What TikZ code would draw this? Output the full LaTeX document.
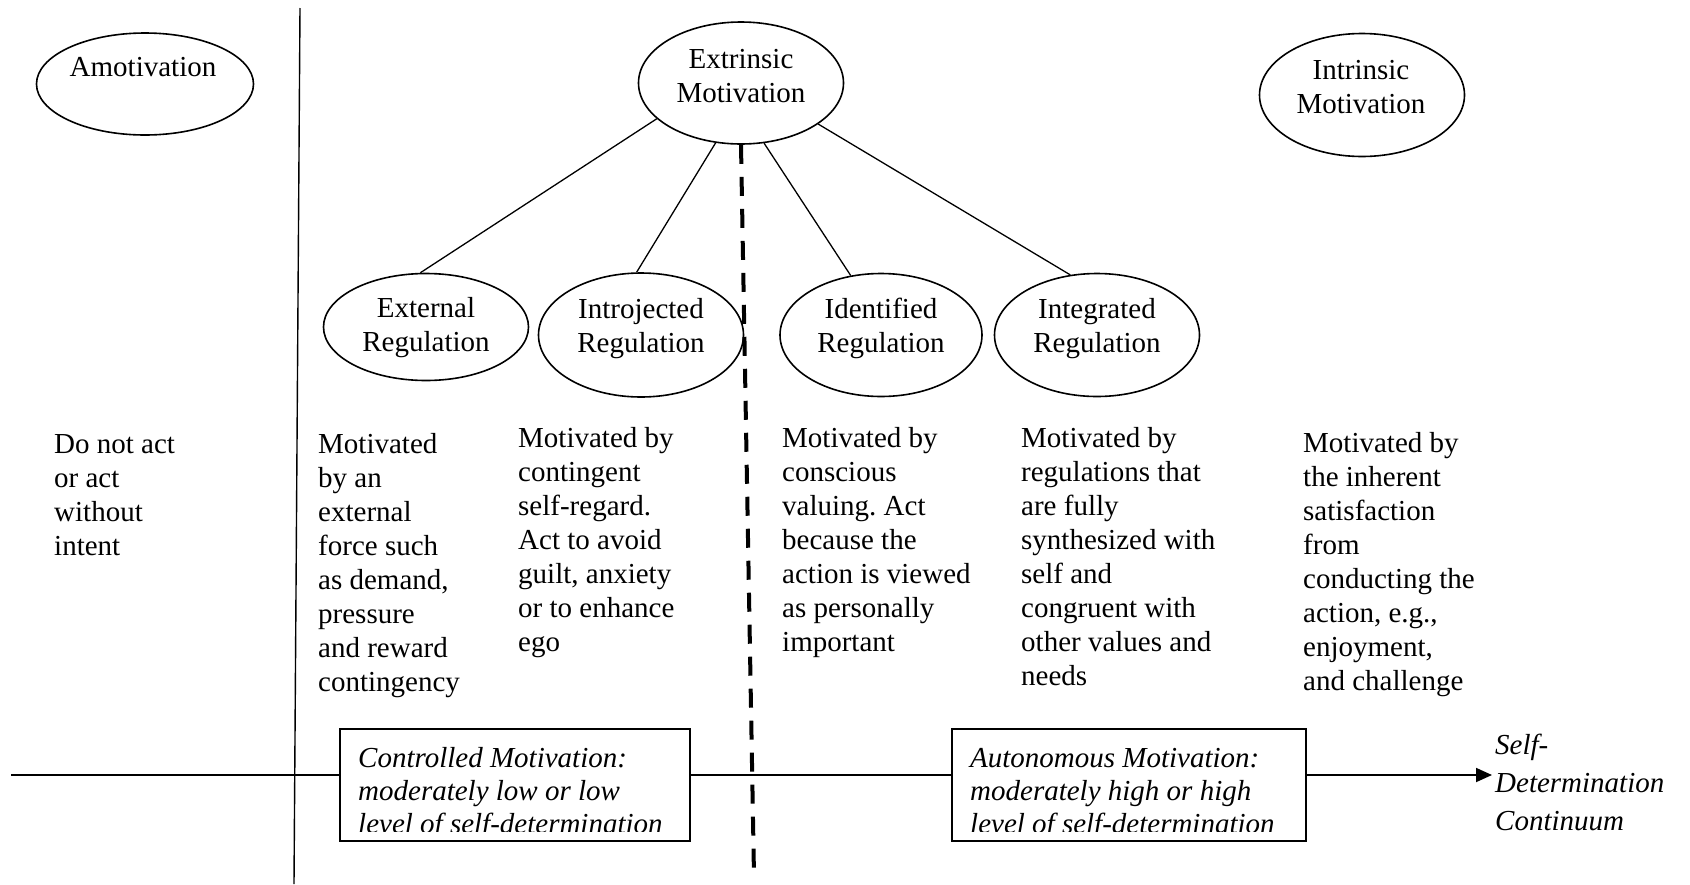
\documentclass[tikz,border=0pt]{standalone}
\usepackage{fontspec}
\setmainfont{Liberation Serif}
\usetikzlibrary{shapes.geometric,arrows.meta}
\frenchspacing

\begin{document}
\begin{tikzpicture}[x=1pt,y=-1pt,
  txt/.style={font=\fontsize{29}{34}\selectfont, inner sep=0pt, align=left, anchor=base west},
  oval/.style={ellipse, draw, line width=1.6pt, inner sep=0pt},
  ovaltxt/.style={font=\fontsize{29}{34}\selectfont, inner sep=0pt, align=center, anchor=base},
  boxtxt/.style={font=\fontsize{29}{33}\selectfont\itshape, inner sep=0pt, align=left, anchor=base west},
  levelbox/.style={draw, line width=1.8pt, fill=white, inner sep=0pt},
  link/.style={line width=1.3pt},
  axis/.style={line width=1.8pt},
  divider/.style={line width=4pt, dash pattern=on 19pt off 13pt}
]
\useasboundingbox (0,0) rectangle (1690,884);

% ovals
\node[oval, minimum width=217, minimum height=102] (amo) at (145,84) {};
\node[oval, minimum width=205, minimum height=122] (ext) at (741,83) {};
\node[oval, minimum width=205, minimum height=123] (intr) at (1362,95) {};
\node[oval, minimum width=205, minimum height=107] (extreg) at (426,327) {};
\node[oval, minimum width=205, minimum height=124] (introj) at (641,335) {};
\node[oval, minimum width=202, minimum height=123] (ident) at (881,335) {};
\node[oval, minimum width=205, minimum height=123] (integ) at (1097,335) {};

% oval labels (placed by the baseline of their last line)
\node[ovaltxt] (amoT) at (143,76) {Amotivation};
\node[ovaltxt] (extT) at (741,102) {Extrinsic\\Motivation};
\node[ovaltxt] (intrT) at (1361,113) {Intrinsic\\Motivation};
\node[ovaltxt] (extregT) at (426,351) {External\\Regulation};
\node[ovaltxt] (introjT) at (641,352) {Introjected\\Regulation};
\node[ovaltxt] (identT) at (881,352) {Identified\\Regulation};
\node[ovaltxt] (integT) at (1097,352) {Integrated\\Regulation};

% branches of extrinsic motivation
\draw[link] (ext.203.8) -- (extreg.96.3);
\draw[link] (ext.247.7) -- (introj.94.6);
\draw[link] (ext.291.8) -- (ident.117.9);
\draw[link] (ext.332.1) -- (integ.114.7);

% separators
\coordinate (vtop) at (300,8);
\coordinate (vbot) at (294,884);
\draw[line width=1.4pt] (vtop) -- (vbot);
\coordinate (dashend) at (754,876);
\draw[divider] (ext.south) -- (dashend);

% descriptions (placed by the baseline of their last line)
\node[txt] (d1) at (54,555) {Do not act\\or act\\without\\intent};
\node[txt] (d2) at (318,691) {Motivated\\by an\\external\\force such\\as demand,\\pressure\\and reward\\contingency};
\node[txt] (d3) at (518,651) {Motivated by\\contingent\\self-regard.\\Act to avoid\\guilt, anxiety\\or to enhance\\ego};
\node[txt] (d4) at (782,651) {Motivated by\\conscious\\valuing. Act\\because the\\action is viewed\\as personally\\important};
\node[txt] (d5) at (1021,685) {Motivated by\\regulations that\\are fully\\synthesized with\\self and\\congruent with\\other values and\\needs};
\node[txt] (d6) at (1303,690) {Motivated by\\the inherent\\satisfaction\\from\\conducting the\\action, e.g.,\\enjoyment,\\and challenge};

% continuum axis
\coordinate (axstart) at (11,775);
\coordinate (axend) at (1492,775);
\node[levelbox, minimum width=350, minimum height=112] (ctrl) at (515,785) {};
\node[levelbox, minimum width=354, minimum height=112] (auto) at (1129,785) {};
\draw[axis] (axstart) -- (axstart -| ctrl.west);
\draw[axis] (axstart -| ctrl.east) -- (axstart -| auto.west);
\draw[axis, -{Triangle[length=16pt,width=14pt]}] (axstart -| auto.east) -- (axend);

% box texts, last line cut by the frame
\begin{scope}
  \clip (340,731) rectangle (1306,831);
  \node[boxtxt] (ctrlT) at (358,833) {Controlled Motivation:\\moderately low or low\\level of self-determination};
  \node[boxtxt] (autoT) at (970,833) {Autonomous Motivation:\\moderately high or high\\level of self-determination};
\end{scope}

\node[font=\fontsize{29}{38}\selectfont\itshape, inner sep=0pt, align=left, anchor=base west] (cont) at (1495,830) {Self-\\Determination\\Continuum};
\end{tikzpicture}
\end{document}
